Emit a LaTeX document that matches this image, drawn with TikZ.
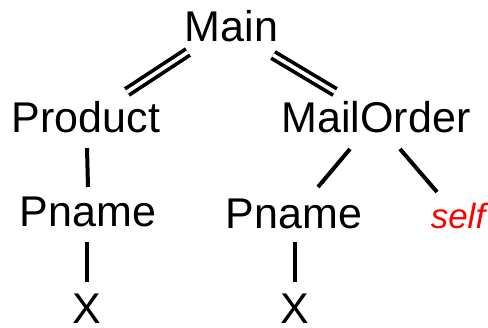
\documentclass[tikz,border=0pt]{standalone}
\usepackage{fontspec}
\setmainfont{Liberation Sans}
\usetikzlibrary{calc}
\definecolor{selfred}{RGB}{255,0,0}
\begin{document}
\begin{tikzpicture}[x=1pt,y=-1pt,
  lbl/.style={anchor=base,inner sep=0pt,font=\fontsize{43}{43}\selectfont},
  edge/.style={line width=4pt},
  dbl/.style={line width=3.7pt,double=white,double distance=3.6pt}]
\useasboundingbox (0,0) rectangle (488,328);
% tree nodes, placed by baseline
\node[lbl] (main) at (231.5,42) {Main};
\node[lbl] (prod) at (86,133) {Product};
\node[lbl] (mo)   at (376,133) {MailOrder};
\node[lbl] (pn1)  at (88,227) {Pname};
\node[lbl] (pn2)  at (294,229) {Pname};
\node[lbl,text=selfred,font=\fontsize{35}{35}\selectfont\itshape] (self) at (458,229) {self};
\node[lbl] (x1)   at (87,324) {X};
\node[lbl] (x2)   at (295,324) {X};
% double edges below the root
\draw[dbl] ($(main.base)+(-43.5,10)$) -- ($(prod.base)+(41,-41)$);
\draw[dbl] ($(main.base)+(41.5,13)$) -- ($(mo.base)+(-41,-41)$);
% single edges
\draw[edge] ($(prod.base)+(1,15)$) -- ($(pn1.base)+(0,-40)$);
\draw[edge] ($(mo.base)+(-26,16)$) -- ($(pn2.base)+(24,-42)$);
\draw[edge] ($(mo.base)+(24,16)$) -- ($(self.base)+(-21,-37)$);
\draw[edge] ($(pn1.base)+(-1,15)$) -- ($(x1.base)+(0,-42)$);
\draw[edge] ($(pn2.base)+(1,13)$) -- ($(x2.base)+(0,-42)$);
\end{tikzpicture}
\end{document}
